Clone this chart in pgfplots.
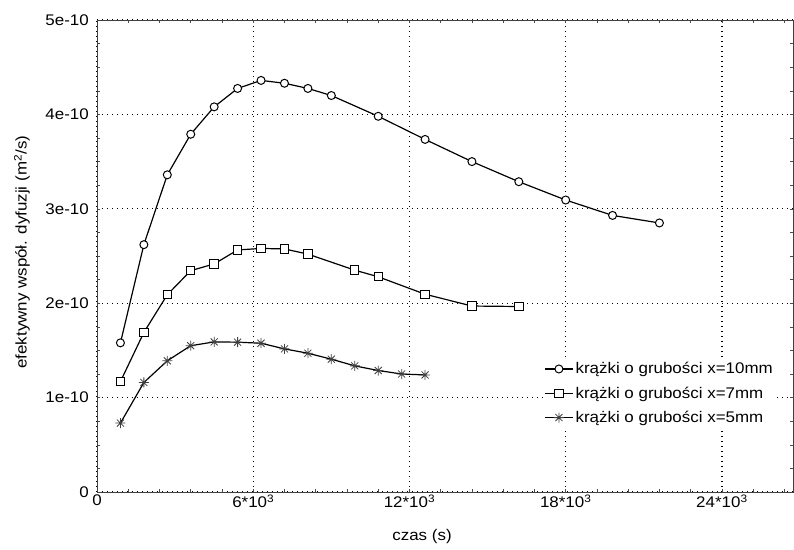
\documentclass[border=0pt]{standalone}
\usepackage{fontspec}
\setmainfont{Liberation Sans}[FakeStretch=1.1]
\usepackage{pgfplots}
\pgfplotsset{compat=1.18}
\pgfdeclareplotmark{mstar}{%
  \pgfpathmoveto{\pgfqpoint{0pt}{\pgfplotmarksize}}\pgfpathlineto{\pgfqpoint{0pt}{-\pgfplotmarksize}}%
  \pgfpathmoveto{\pgfqpoint{\pgfplotmarksize}{0pt}}\pgfpathlineto{\pgfqpoint{-\pgfplotmarksize}{0pt}}%
  \pgfpathmoveto{\pgfpointpolar{45}{\pgfplotmarksize}}\pgfpathlineto{\pgfpointpolar{225}{\pgfplotmarksize}}%
  \pgfpathmoveto{\pgfpointpolar{135}{\pgfplotmarksize}}\pgfpathlineto{\pgfpointpolar{315}{\pgfplotmarksize}}%
  \pgfusepathqstroke}
\begin{document}
\begin{tikzpicture}[font=\fontsize{15.4bp}{18bp}\selectfont]
\begin{axis}[
  at={(0,0)}, anchor=south west,
  scale only axis, width=696bp, height=472bp,
  xmin=0, xmax=26730, ymin=0, ymax=5e-10,
  xtick={0,6000,12000,18000,24000},
  xticklabels={0,6*10\textsuperscript{3},12*10\textsuperscript{3},18*10\textsuperscript{3},24*10\textsuperscript{3}},
  minor xtick={1200,2400,3600,4800,7200,8400,9600,10800,13200,14400,15600,16800,19200,20400,21600,22800,25200,26400},
  ytick={0,1e-10,2e-10,3e-10,4e-10,5e-10},
  yticklabels={0,1e-10,2e-10,3e-10,4e-10,5e-10},
  minor ytick={0.25e-10,0.5e-10,0.75e-10,1.25e-10,1.5e-10,1.75e-10,2.25e-10,2.5e-10,2.75e-10,3.25e-10,3.5e-10,3.75e-10,4.25e-10,4.5e-10,4.75e-10},
  scaled x ticks=false, scaled y ticks=false,
  tick align=inside,
  major tick length=3bp, minor tick length=3bp,
  tick style={black!70, line width=0.6bp},
  xmajorgrids, ymajorgrids,
  major grid style={black, line width=1.3bp, dash pattern=on 1.3bp off 3.7bp},
  axis line style={black!75, line width=0.8bp},
  xticklabel style={anchor=north, inner sep=0pt, yshift=-3bp},
  yticklabel style={anchor=east, inner sep=0pt, xshift=-8bp},
  xlabel={czas (s)},
  xlabel style={at={(axis description cs:0.467,-0.0953)}, anchor=center},
  ylabel={efektywny współ. dyfuzji (m\textsuperscript{2}/s)},
  ylabel style={at={(axis description cs:-0.1078,0.508)}, anchor=center, rotate=0},
  legend style={at={(axis description cs:0.641,0.281)}, anchor=north west, draw=none, fill=white, inner sep=1bp, row sep=7.5bp, cells={anchor=west}},
  legend image code/.code={\draw[mark repeat=2,mark phase=2] plot coordinates {(0bp,0bp)(14bp,0bp)(28bp,0bp)};},
  every axis plot/.append style={black, line width=1.2bp},
]
\addplot[mark=*, mark size=4bp, mark options={fill=white, draw=black, line width=1bp}] coordinates {
(900,1.58e-10) (1800,2.62e-10) (2700,3.36e-10) (3600,3.79e-10) (4500,4.08e-10)
(5400,4.275e-10) (6300,4.36e-10) (7200,4.33e-10) (8100,4.275e-10) (9000,4.20e-10)
(10800,3.98e-10) (12600,3.735e-10) (14400,3.50e-10) (16200,3.287e-10) (18000,3.093e-10)
(19800,2.93e-10) (21600,2.85e-10)};
\addlegendentry{krążki o grubości x=10mm}
\addplot[mark=square*, mark size=4.2bp, mark options={fill=white, draw=black, line width=1bp}] coordinates {
(900,1.17e-10) (1800,1.69e-10) (2700,2.09e-10) (3600,2.345e-10) (4500,2.416e-10)
(5400,2.564e-10) (6300,2.58e-10) (7200,2.575e-10) (8100,2.52e-10) (9900,2.35e-10)
(10800,2.28e-10) (12600,2.095e-10) (14400,1.97e-10) (16200,1.965e-10)};
\addlegendentry{krążki o grubości x=7mm}
\addplot[mark=mstar, mark size=5bp, mark options={draw=black!75, line width=0.8bp}] coordinates {
(900,0.73e-10) (1800,1.16e-10) (2700,1.39e-10) (3600,1.55e-10) (4500,1.59e-10)
(5400,1.587e-10) (6300,1.576e-10) (7200,1.516e-10) (8100,1.47e-10) (9000,1.407e-10)
(9900,1.336e-10) (10800,1.287e-10) (11700,1.25e-10) (12600,1.24e-10)};
\addlegendentry{krążki o grubości x=5mm}
\end{axis}
\pgfresetboundingbox
\path (-97bp,-58bp) rectangle (697bp,492bp);
\end{tikzpicture}
\end{document}
